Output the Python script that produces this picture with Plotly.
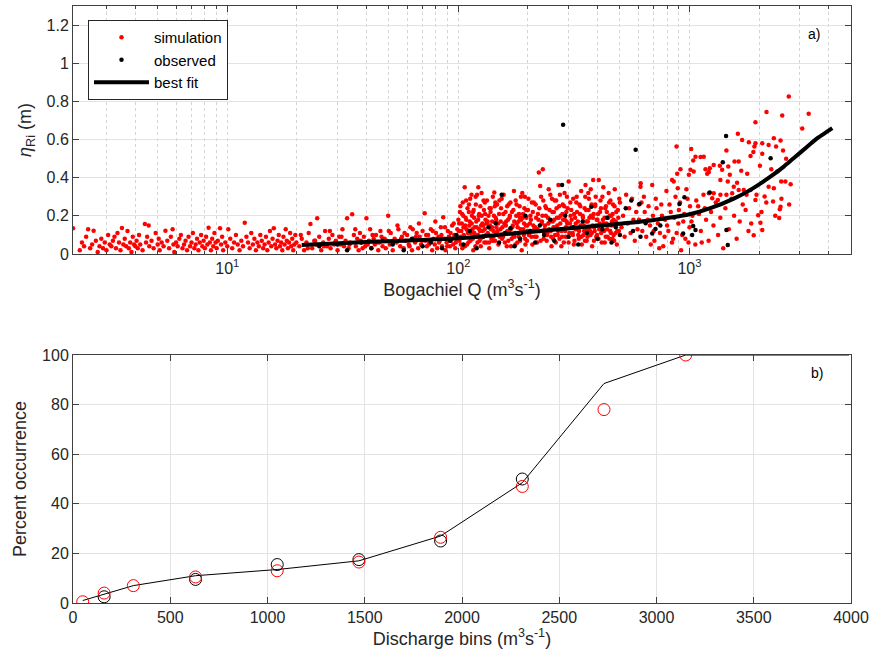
import plotly.graph_objects as go
from plotly.subplots import make_subplots

# ---------------- panel a) data (Q in m3/s, eta in m) ----------------
sim_low = [(2.15,.135),(2.3,.02),(2.35,.06),(2.4,.04),(2.45,.09),(2.5,.13),(2.55,.03),(2.6,.05),(2.64,.122),(2.7,.07),(2.75,.01),(2.8,.04),(2.85,.08),(2.9,.03),(2.95,.06),(3.0,.02),(3.05,.1),(3.1,.05),(3.15,.04),(3.2,.07),(3.25,.09),(3.3,.03),(3.35,.11),(3.4,.06),(3.45,.02),(3.5,.136),(3.55,.05),(3.6,.08),(3.65,.04),(3.7,.12),(3.75,.03),(3.8,.06),(3.85,.01),(3.9,.09),(3.95,.05),(4.0,.04),(4.05,.07),(4.1,.03),(4.15,.1),(4.2,.05),(4.3,.02),(4.4,.157),(4.45,.06),(4.5,.09),(4.57,.15),(4.6,.04),(4.7,.07),(4.8,.03),(4.9,.11),(5.0,.05),(5.05,.08),(5.1,.02),(5.2,.06),(5.3,.04),(5.4,.122),(5.5,.07),(5.6,.03),(5.7,.09),(5.8,.13),(5.85,.05),(5.9,.01),(6.0,.06),(6.1,.04),(6.2,.08),(6.3,.1),(6.4,.03),(6.5,.05),(6.6,.07),(6.7,.02),(6.8,.09),(6.9,.04),(7.0,.06),(7.1,.11),(7.2,.03),(7.3,.05),(7.4,.08),(7.5,.02),(7.6,.06),(7.7,.1),(7.8,.04),(7.9,.07),(8.0,.03),(8.1,.09),(8.2,.05),(8.3,.138),(8.4,.06),(8.5,.02),(8.6,.08),(8.7,.04),(8.8,.11),(8.9,.06),(9.0,.03),(9.1,.07),(9.3,.135),(9.4,.05),(9.5,.09),(9.6,.02),(9.8,.06),(10.0,.04),(10.1,.13),(10.3,.08),(10.5,.03),(10.7,.06),(10.9,.1),(11.1,.05),(11.3,.02),(11.5,.07),(11.7,.04),(11.9,.164),(12.1,.09),(12.3,.06),(12.5,.03),(12.7,.11),(12.9,.05),(13.1,.08),(13.3,.02),(13.5,.06),(13.7,.04),(13.9,.1),(14.1,.07),(14.3,.03),(14.5,.05),(14.7,.09),(14.9,.02),(15.1,.06),(15.3,.12),(15.5,.04),(15.7,.08),(15.9,.135),(16.1,.05),(16.3,.03),(16.5,.07),(16.7,.1),(16.9,.04),(17.1,.06),(17.3,.02),(17.5,.09),(17.7,.05),(17.9,.13),(18.1,.07),(18.3,.03),(18.5,.06),(18.7,.11),(18.9,.04),(19.1,.08),(19.3,.02),(19.5,.05),(19.7,.1),(19.9,.06)]

sim_mid = [(20.5,.04),(21,.08),(21.5,.02),(22,.06),(22.5,.11),(22.9,.157),(23.3,.03),(23.8,.07),(24.2,.05),(24.5,.187),(25,.09),(25.5,.02),(26,.06),(26.5,.12),(27,.04),(27.5,.08),(28,.03),(28.5,.1),(29,.05),(29.5,.07),(30,.02),(30.5,.09),(31,.05),(31.5,.13),(32,.04),(32.5,.07),(33,.187),(33.5,.03),(34,.06),(34.7,.208),(35.3,.1),(36,.04),(36.5,.08),(37,.02),(37.5,.11),(38,.06),(38.5,.03),(39,.09),(40,.187),(40.5,.05),(41,.07),(41.5,.13),(42,.03),(43,.08),(43.5,.05),(44,.1),(45,.02),(45.5,.06),(46,.12),(47,.04),(48,.08),(48.5,.03),(49,.07),(49.7,.2),(50.5,.05),(51,.11),(52,.02),(53,.08),(54,.06),(55,.13),(56,.04),(57,.09),(58,.03),(59,.07),(60,.1),(61,.05),(62,.14),(63,.02),(64,.08),(65,.06),(66,.11),(67,.03),(68,.09),(69,.05),(70,.12),(71.5,.213),(72,.07),(73,.04),(74,.1),(75,.06),(76,.13),(77,.02),(78,.08),(79,.05),(80,.11),(81,.03),(82,.09),(83,.07),(84,.14),(85,.04),(86,.193),(87,.08),(88,.02),(89,.06),(90,.12),(91,.09),(92,.04),(93,.07),(94,.15),(95,.05),(96,.1),(97,.03),(98,.08),(99,.13),
(20.8,.1),(22.3,.03),(24,.07),(26.2,.04),(27.8,.12),(29.3,.06),(31.2,.09),(33.8,.05),(35.8,.13),(37.8,.07),(39.5,.04),(42.5,.1),(44.5,.06),(46.5,.09),(50,.12),(52.5,.06),(54.5,.15),(56.5,.08),(58.5,.11),(61.5,.04),(63.5,.13),(65.5,.09),(67.5,.16),(69.5,.07),(72.5,.1),(74.5,.05),(77.5,.12),(79.5,.17),(82.5,.06),(84.5,.1),(87.5,.14),(89.5,.04),(92.5,.11),(95.5,.16),(97.5,.06),(99.5,.09)]

sim_dense = [(100,.18),(101,.07),(102,.25),(103,.12),(104,.03),(105,.2),(106,.09),(106.5,.35),(107,.15),(108,.28),(109,.05),(110,.11),(111,.22),(112,.17),(113,.08),(114,.31),(115,.13),(116,.02),(117,.19),(118,.1),(119,.26),(120,.14),(121,.06),(122,.35),(123,.21),(124,.12),(125,.04),(126,.32),(127,.16),(128,.09),(129,.23),(130,.13),(131,.18),(132,.06),(133,.28),(134,.11),(135,.2),(136,.03),(137,.15),(138,.24),(139,.08),(140,.17),(141,.3),(142,.12),(143,.322),(144,.07),(145,.19),(146,.14),(147,.26),(148,.1),(149,.05),(150,.21),(152,.13),(154,.29),(156,.09),(158,.16),(160,.22),(162,.04),(164,.18),(166,.12),(168,.27),(170,.08),(172,.15),(174,.33),(176,.11),(178,.2),(180,.06),(182,.17),(184,.25),(186,.13),(188,.02),(190,.19),(192,.1),(194,.3),(196,.15),(198,.07),(200,.23),(203,.12),(206,.18),(209,.05),(212,.27),(215,.14),(218,.09),(221,.21),(223,.427),(226,.357),(229,.16),(232,.444),(235,.11),(238,.25),(241,.07),(244,.19),(247,.13),(250,.31),(253,.04),(256,.17),(259,.22),(262,.1),(265,.28),(268,.15),(271,.362),(274,.08),(277,.2),(280,.12),(283,.26),(286,.06),(289,.18),(292,.14),(295,.3),(298,.09),(300,.38),(304,.16),(308,.23),(312,.11),(316,.05),(320,.19),(324,.27),(328,.13),(332,.08),(336,.21),(340,.33),(344,.15),(348,.1),(352,.24),(355,.362),(359,.07),(363,.17),(367,.29),(371,.12),(375,.2),(379,.04),(383,.388),(387,.14),(391,.26),(395,.09),(400,.18),(405,.388),(410,.22),(415,.11),(420,.3),(425,.16),(430,.06),(435,.25),(440,.13),(445,.19),(450,.08),(455,.28),(460,.15),(465,.21),(470,.1),(475,.34),(480,.17),(485,.05),(490,.23),(495,.12),(500,.27),(508,.14),(516,.2),(524,.09),(532,.31),(540,.16),(548,.24),(556,.11),(564,.29),(572,.18),(580,.07),(588,.22),(596,.13),(604,.26),(615,.371)]

sim_dense2 = [(100.5,.12),(101.5,.22),(102.5,.05),(103.5,.16),(104.5,.27),(105.5,.1),(107.5,.19),(108.5,.13),(109.5,.24),(110.5,.06),(111.5,.15),(112.5,.29),(113.5,.11),(114.5,.2),(115.5,.08),(116.5,.23),(117.5,.14),(118.5,.04),(119.5,.17),(120.5,.31),(121.5,.1),(122.5,.2),(123.5,.07),(124.5,.25),(125.5,.15),(127.5,.12),(128.5,.28),(129.5,.06),(130.5,.21),(132.5,.16),(134.5,.1),(136.5,.24),(138.5,.13),(140.5,.07),(142.5,.2),(144.5,.27),(146.5,.11),(148.5,.16),(151,.09),(153,.24),(155,.14),(157,.31),(159,.06),(161,.17),(163,.12),(165,.26),(167,.2),(169,.04),(171,.14),(173,.23),(175,.09),(177,.28),(179,.16),(181,.11),(183,.21),(185,.07),(187,.18),(189,.32),(191,.13),(193,.24),(195,.05),(197,.19),(199,.12),(201,.29),(204,.16),(207,.09),(210,.22),(213,.13),(216,.26),(219,.06),(222,.18),(225,.12),(228,.3),(231,.2),(234,.08),(237,.15),(240,.24),(243,.11),(246,.34),(249,.17),(252,.09),(255,.22),(258,.14),(261,.28),(264,.06),(267,.19),(270,.12),(273,.25),(276,.16),(279,.04),(282,.21),(285,.13),(288,.32),(291,.09),(294,.17),(297,.24),(302,.11),(306,.2),(310,.14),(314,.29),(318,.07),(322,.16),(326,.22),(330,.1),(334,.26),(338,.15),(342,.05),(346,.19),(350,.12),(354,.3),(358,.17),(362,.09),(366,.23),(370,.14),(374,.34),(378,.11),(382,.19),(386,.07),(390,.25),(394,.15),(398,.1),(402,.21),(407,.13),(412,.28),(417,.06),(422,.18),(427,.12),(432,.24),(437,.16),(442,.09),(447,.32),(452,.2),(457,.11),(462,.17),(467,.26),(472,.07),(477,.15),(482,.22),(487,.12),(492,.19),(497,.29)]

sim_dense3 = [(100.8,.16),(102.2,.09),(103.8,.21),(105.2,.14),(106.8,.04),(108.2,.18),(109.8,.12),(111.2,.26),(112.8,.07),(114.2,.16),(115.8,.22),(117.2,.11),(118.8,.3),(120.2,.09),(121.8,.18),(123.2,.13),(124.8,.08),(126.2,.2),(128.2,.15),(130.2,.27),(131.8,.1),(133.8,.17),(135.8,.06),(137.8,.22),(139.8,.14),(141.8,.09),(143.8,.25),(145.8,.18),(147.8,.12),(150.5,.28),(152.5,.17),(154.5,.08),(156.5,.21),(158.5,.11),(160.5,.15),(162.5,.25),(164.5,.07),(166.5,.19),(168.5,.13),(170.5,.22),(172.5,.1),(174.5,.17),(176.5,.05),(178.5,.26),(180.5,.14),(182.5,.09),(184.5,.19),(186.5,.3),(188.5,.12),(190.5,.21),(192.5,.16),(194.5,.08),(196.5,.23),(198.5,.15),(202,.1),(205,.2),(208,.27),(211,.15),(214,.09),(217,.19),(220,.13),(224,.24),(227,.07),(230,.17),(233,.28),(236,.13),(239,.2),(242,.1),(245,.16),(248,.23),(251,.12),(254,.29),(257,.08),(260,.18),(263,.14),(266,.24),(269,.1),(272,.19),(275,.31),(278,.13),(281,.09),(284,.18),(287,.25),(290,.12),(293,.22),(296,.16),(300,.06),(305,.27),(309,.18),(313,.1),(317,.21),(321,.13),(325,.3),(329,.17),(333,.12),(337,.25),(341,.09),(345,.2),(349,.15),(353,.07),(357,.23),(361,.13),(365,.32),(369,.19),(373,.1),(377,.26),(381,.15),(385,.21),(389,.12),(393,.3),(397,.18),(404,.08),(409,.16),(414,.24),(419,.13),(424,.35),(429,.19),(434,.09),(439,.22),(444,.15),(449,.27),(454,.12),(459,.2),(464,.08),(469,.18),(474,.25),(479,.11)]

sim_high = [(614,.353),(690,.362),(841,.388),(855,.38),(879,.563),(885,.42),(890,.345),(914,.444),(994,.415),(1010,.441),(1017,.55),(1038,.49),(1043,.432),(1062,.51),(1116,.508),(1153,.51),(1173,.444),(1193,.42),(1213,.43),(1213,.319),(1225,.45),(1254,.292),(1273,.467),(1273,.319),(1327,.283),(1353,.462),(1361,.388),(1361,.31),(1385,.441),(1445,.542),(1445,.31),(1465,.38),(1472,.458),(1495,.415),(1530,.319),(1555,.353),(1567,.485),(1607,.374),(1620,.63),(1633,.485),(1633,.336),(1675,.437),(1690,.597),(1718,.336),(1766,.31),(1778,.42),(1807,.586),(1837,.514),(1837,.336),(1890,.535),(1897,.098),(1910,.563),(1930,.69),(1930,.58),(1930,.283),(1983,.203),(2018,.462),(2028,.164),(2065,.58),(2065,.525),(2065,.126),(2115,.301),(2155,.744),(2200,.572),(2200,.353),(2260,.444),(2300,.275),(2318,.607),(2318,.345),(2370,.563),(2400,.432),(2445,.189),(2460,.235),(2478,.595),(2478,.248),(2495,.38),(2520,.726),(2540,.542),(2600,.38),(2620,.499),(2690,.826),(2740,.366),(3075,.658),(3280,.735),
(620,.27),(640,.22),(660,.18),(680,.05),(700,.12),(720,.24),(740,.03),(760,.2),(780,.09),(800,.15),(820,.26),(840,.06),(860,.19),(880,.11),(900,.23),(920,.02),(940,.17),(960,.08),(980,.29),(1000,.14),(1030,.2),(1060,.05),(1090,.25),(1120,.12),(1150,.31),(1180,.18),(1210,.07),(1240,.22),(1270,.15),(1300,.27),(1330,.1),(1360,.19),(1400,.03),(1430,.24),(1480,.13),(1520,.29),(1560,.2),(1600,.08),(1650,.17),(1700,.26),(1750,.23),(1800,.12),(1850,.16),(1950,.31),(2050,.22),(2150,.27),(2350,.2),(2500,.29),(2700,.26),
(605,.18),(625,.12),(635,.3),(650,.09),(665,.25),(675,.15),(695,.2),(705,.07),(715,.29),(730,.16),(745,.11),(755,.26),(770,.04),(785,.18),(795,.33),(810,.12),(830,.22),(850,.08),(870,.3),(895,.16),(910,.27),(930,.1),(950,.21),(970,.34),(990,.06),(1005,.25),(1020,.17),(1070,.28),(1100,.21),(1130,.06),(1165,.24)]

observed = [(25,.04),(30,.05),(33,.02),(38,.06),(42,.03),(47,.07),(52,.05),(58,.02),(63,.08),(70,.04),(76,.06),(85,.03),(92,.07),(98,.1),(105,.05),(112,.12),(120,.03),(128,.09),(135,.14),(145,.161),(150,.06),(154,.31),(160,.11),(168,.135),(175,.04),(185,.08),(195,.2),(205,.12),(215,.06),(225,.15),(235,.1),(250,.18),(260,.07),(270,.13),(281,.362),(284,.677),(290,.2),(300,.09),(315,.14),(330,.05),(345,.17),(360,.11),(376,.248),(400,.08),(420,.13),(440,.19),(460,.06),(480,.14),(500,.1),(530,.24),(560,.28),(570,.12),(585,.546),(608,.262),(614,.091),(646,.161),(690,.108),(713,.131),(748,.149),(905,.262),(939,.108),(951,.298),(1027,.1),(1038,.147),(1062,.126),(1224,.322),(1394,.481),(1440,.619),(1445,.126),(1465,.047),(2245,.502)]

fit_q = [21, 44.5, 100, 250, 412, 678, 1000, 1232, 1556, 1836, 2240, 2560, 2830, 3230, 3575, 3880, 4150]
fit_eta = [0.047, 0.065, 0.082, 0.126, 0.149, 0.176, 0.208, 0.24, 0.29, 0.336, 0.405, 0.458, 0.503, 0.562, 0.607, 0.636, 0.66]

# ---------------- panel b) data ----------------
line_bins = [50, 160, 310, 630, 1050, 1470, 1890, 2310, 2730, 3150, 3570, 3990]
line_pct = [1, 3.5, 7, 11, 13.5, 17, 27, 48.5, 88.5, 100, 100, 100]
obs_bins = [160, 630, 1050, 1470, 1890, 2310]
obs_pct = [2.5, 9.5, 15.5, 17.5, 25, 50]
sim_bins = [50, 160, 310, 630, 1050, 1470, 1890, 2310, 2730, 3150]
sim_pct = [0.5, 4, 7, 10.5, 13, 16.5, 26.5, 47, 78, 100]

sim_all = sim_low + sim_mid + sim_dense + sim_dense2 + sim_dense3 + sim_high
sim_q = [p[0] for p in sim_all]
sim_eta = [p[1] for p in sim_all]
obs_q = [p[0] for p in observed]
obs_eta = [p[1] for p in observed]

AX = "#262626"
GRID = "#e3e3e3"
FONT = "Liberation Sans, Arial, sans-serif"

fig = make_subplots(rows=2, cols=1, vertical_spacing=0.0)

fig.add_trace(go.Scatter(x=sim_q, y=sim_eta, mode="markers", name="simulation",
                         marker=dict(color="#ff0000", size=4.5)), row=1, col=1)
fig.add_trace(go.Scatter(x=obs_q, y=obs_eta, mode="markers", name="observed",
                         marker=dict(color="#000000", size=4.5)), row=1, col=1)
fig.add_trace(go.Scatter(x=fit_q, y=fit_eta, mode="lines", name="best fit",
                         line=dict(color="#000000", width=4, shape="spline",
                                   smoothing=0.8)), row=1, col=1)

fig.add_trace(go.Scatter(x=line_bins, y=line_pct, mode="lines", showlegend=False,
                         line=dict(color="#000000", width=1)), row=2, col=1)
fig.add_trace(go.Scatter(x=obs_bins, y=obs_pct, mode="markers", showlegend=False,
                         marker=dict(symbol="circle-open", size=12, color="#000000",
                                     line=dict(width=1))), row=2, col=1)
fig.add_trace(go.Scatter(x=sim_bins, y=sim_pct, mode="markers", showlegend=False,
                         marker=dict(symbol="circle-open", size=12, color="#ff0000",
                                     line=dict(width=1))), row=2, col=1)

minor_vals = []
for d in [1, 10, 100, 1000]:
    for m in range(2, 10):
        minor_vals.append(d * m)

common = dict(showline=True, linecolor="#404040", linewidth=1, mirror="ticks",
              ticks="inside", tickcolor="#404040", zeroline=False, automargin=False,
              tickfont=dict(size=16, color=AX, family=FONT))

fig.update_xaxes(type="log", range=[0.3324, 3.699], tickvals=[10, 100, 1000],
                 ticktext=["10<sup>1</sup>", "10<sup>2</sup>", "10<sup>3</sup>"],
                 ticklen=6, showgrid=True, gridcolor="#d4d4d4", griddash="dot",
                 minor=dict(tickvals=minor_vals, ticks="inside", ticklen=3,
                            tickcolor="#404040", showgrid=True, gridcolor="#d4d4d4",
                            griddash="dot"),
                 title=dict(text="Bogachiel Q (m<sup>3</sup>s<sup>-1</sup>)",
                            font=dict(size=18, color=AX, family=FONT), standoff=6),
                 domain=[0, 1], row=1, col=1, **common)
fig.update_yaxes(range=[0, 1.3], tickvals=[0, 0.2, 0.4, 0.6, 0.8, 1, 1.2], ticklen=6,
                 showgrid=True, gridcolor=GRID,
                 title=dict(text="<i>η</i><sub>Ri</sub> (m)",
                            font=dict(size=18, color=AX, family=FONT), standoff=10),
                 domain=[0.5846, 1.0], row=1, col=1, **common)

fig.update_xaxes(range=[0, 4000], dtick=500, ticklen=6, showgrid=True, gridcolor=GRID,
                 title=dict(text="Discharge bins (m<sup>3</sup>s<sup>-1</sup>)",
                            font=dict(size=18, color=AX, family=FONT), standoff=6),
                 domain=[0, 1], row=2, col=1, **common)
fig.update_yaxes(range=[0, 100], dtick=20, ticklen=6, showgrid=True, gridcolor=GRID,
                 title=dict(text="Percent occurrence",
                            font=dict(size=18, color=AX, family=FONT), standoff=10),
                 domain=[0, 0.4154], row=2, col=1, **common)

fig.add_annotation(text="a)", xref="paper", yref="paper", x=0.963, y=0.97,
                   showarrow=False, font=dict(size=14, color="#000000", family=FONT))
fig.add_annotation(text="b)", xref="paper", yref="paper", x=0.967, y=0.385,
                   showarrow=False, font=dict(size=14, color="#000000", family=FONT))

fig.update_layout(
    width=873, height=668,
    margin=dict(l=73, r=22, t=6, b=65, autoexpand=False),
    paper_bgcolor="white", plot_bgcolor="white",
    font=dict(family=FONT, color=AX),
    legend=dict(x=0.0193, y=0.9765, xanchor="left", yanchor="top",
                bgcolor="white", bordercolor=AX, borderwidth=1,
                font=dict(size=15, color="#000000", family=FONT),
                tracegroupgap=0, itemwidth=55),
)

fig.write_html("out.html", config={"displayModeBar": False},
               post_script="document.body.style.margin='0px';document.body.style.padding='0px';")
